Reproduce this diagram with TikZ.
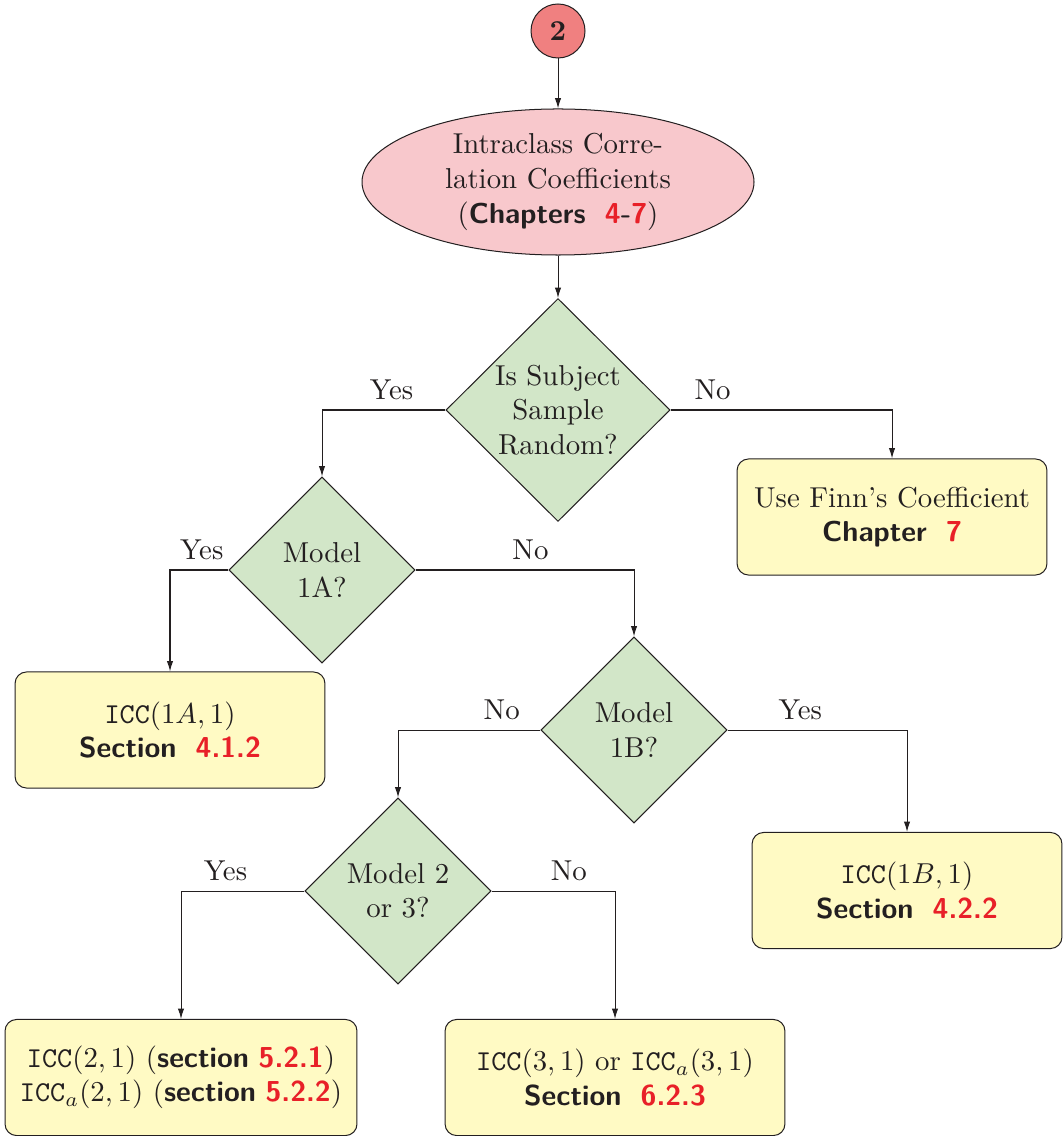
\documentclass[tikz,border=0pt]{standalone}
\usetikzlibrary{shapes.geometric,arrows.meta}
\definecolor{cpink}{RGB}{248,200,204}
\definecolor{ccircle}{RGB}{240,128,128}
\definecolor{cgreen}{RGB}{210,230,200}
\definecolor{cyellow}{RGB}{255,250,196}
\definecolor{cred}{RGB}{232,32,40}
\definecolor{cink}{RGB}{35,31,32}
\newcommand{\hl}[1]{\textsf{\bfseries #1}}
\newcommand{\rn}[1]{\textcolor{cred}{\textsf{\bfseries #1}}}
\begin{document}
\begin{tikzpicture}[x=0.3472pt,y=-0.3472pt, line width=0.35pt, draw=cink, text=cink,
  every node/.style={text=cink},
  startnode/.style={circle, draw=cink, fill=ccircle, minimum size=18.75pt, inner sep=0pt, font=\bfseries},
  ellnode/.style={ellipse, draw=cink, fill=cpink, minimum width=136.1pt, minimum height=50.7pt, inner sep=0pt, align=center},
  decbig/.style={diamond, draw=cink, fill=cgreen, minimum width=77.8pt, minimum height=77.4pt, inner sep=0pt, align=center},
  dec/.style={diamond, draw=cink, fill=cgreen, minimum width=64.6pt, minimum height=64.6pt, inner sep=0pt, align=center},
  res/.style={rectangle, rounded corners=4pt, draw=cink, fill=cyellow, minimum width=107.6pt, minimum height=40.3pt, align=center},
  conn/.style={draw=cink, -{Latex[length=3.6pt,width=2.2pt]}},
  lab/.style={anchor=base, yshift=3.8pt, inner sep=0pt}]
\useasboundingbox (0,0) rectangle (1063,1136);
\node[startnode] (s) at (558,31) {2};
\node[ellnode] (e) at (558,182) {Intraclass Corre-\\lation Coefficients\\(\hl{Chapters}\ \ \rn{4}\hl{-}\rn{7})};
\node[decbig] (d1) at (558,410) {Is Subject\\Sample\\Random?};
\node[res] (finn) at (892,517) {Use Finn's Coefficient\\\hl{Chapter}\ \ \rn{7}};
\node[dec] (d2) at (322,570) {Model\\1A?};
\node[res] (b1a) at (170,730) {\texttt{ICC}$(1A,1)$\\\hl{Section}\ \ \rn{4.1.2}};
\node[dec] (d3) at (634,730) {Model\\1B?};
\node[res] (b1b) at (907,890.5) {\texttt{ICC}$(1B,1)$\\\hl{Section}\ \ \rn{4.2.2}};
\node[dec] (d4) at (398,891) {Model 2\\or 3?};
\node[res, minimum width=122.2pt] (b2) at (181,1077.5) {\texttt{ICC}$(2,1)$ (\hl{section} \rn{5.2.1})\\\texttt{ICC}$_a(2,1)$ (\hl{section} \rn{5.2.2})};
\node[res, minimum width=118pt] (b3) at (615,1077.5) {\texttt{ICC}$(3,1)$ or \texttt{ICC}$_a(3,1)$\\\hl{Section}\ \ \rn{6.2.3}};
\draw[conn] (s) -- (e);
\draw[conn] (e) -- (d1);
\draw[conn] (d1.west) -| node[lab, pos=0.218]{Yes} (d2.north);
\draw[conn] (d1.east) -| node[lab, pos=0.095]{No} (finn.north);
\draw[conn] (d2.west) -| node[lab, pos=0.229]{Yes} (b1a.north);
\draw[conn] (d2.east) -| node[lab, pos=0.263]{No} (d3.north);
\draw[conn] (d3.west) -| node[lab, pos=0.136]{No} (d4.north);
\draw[conn] (d3.east) -| node[lab, pos=0.203]{Yes} (b1b.north);
\draw[conn] (d4.west) -| node[lab, pos=0.32]{Yes} (b2.north);
\draw[conn] (d4.east) -| node[lab, pos=0.313]{No} (b3.north);
\end{tikzpicture}
\end{document}
